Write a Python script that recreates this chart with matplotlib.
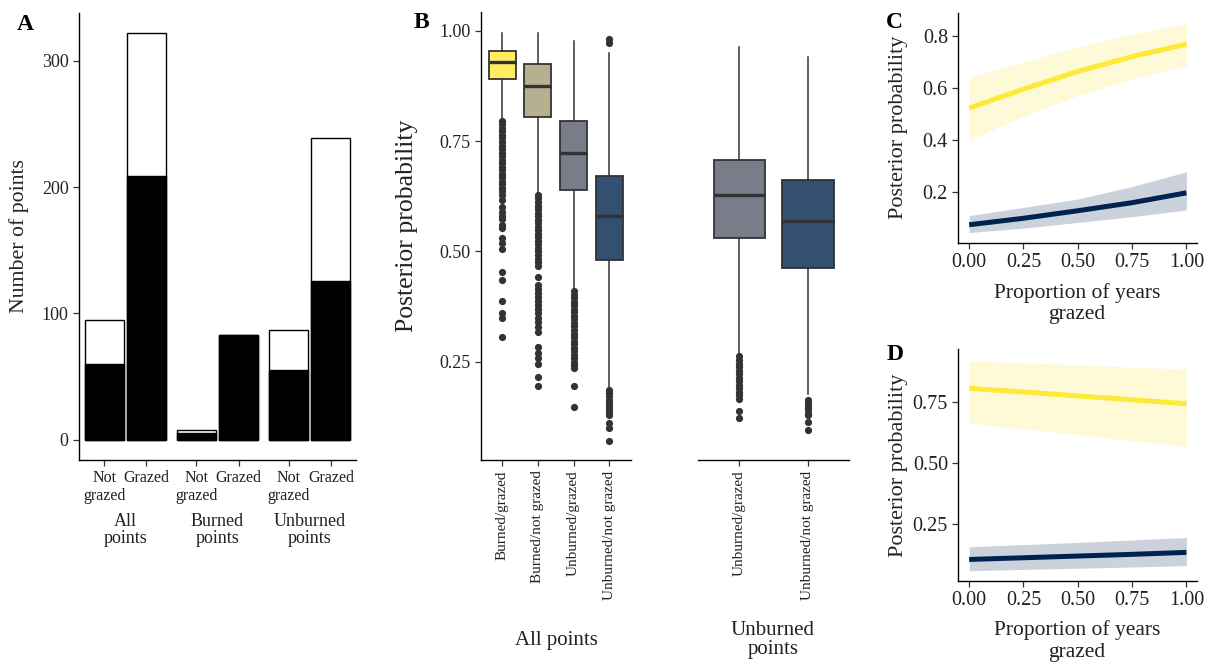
import matplotlib
matplotlib.use("Agg")
import matplotlib.pyplot as plt
import matplotlib.transforms as mtransforms
import numpy as np

plt.rcParams['font.family'] = ['Liberation Serif', 'DejaVu Serif']

# ---------------- Data ----------------
# Panel A
group_labels = ["All\npoints", "Burned\npoints", "Unburned\npoints"]
graze_labels = ["Not\ngrazed", "Grazed"]
bar_total = [95, 322, 8, 83, 87, 239]
bar_black = [60, 209, 5, 83, 55, 126]

# Panel B (left: all points)
box_labels_all = ["Burned/grazed", "Burned/not grazed", "Unburned/grazed", "Unburned/not grazed"]
all_q1 = [0.891, 0.805, 0.640, 0.480]
all_med = [0.929, 0.875, 0.724, 0.581]
all_q3 = [0.955, 0.924, 0.795, 0.672]
all_whislo = [0.800, 0.632, 0.414, 0.192]
all_whishi = [0.996, 0.994, 0.977, 0.950]
all_fliers = [
    [0.796, 0.788, 0.780, 0.772, 0.764, 0.756, 0.748, 0.740, 0.732, 0.724, 0.716,
     0.708, 0.700, 0.692, 0.684, 0.676, 0.668, 0.660, 0.652, 0.644, 0.636, 0.628,
     0.616, 0.600, 0.590, 0.580, 0.573, 0.561, 0.554, 0.530, 0.519, 0.505,
     0.454, 0.435, 0.388, 0.360, 0.350, 0.307],
    [0.628, 0.620, 0.612, 0.604, 0.596, 0.588, 0.580, 0.572, 0.564, 0.556, 0.548,
     0.540, 0.532, 0.524, 0.516, 0.508, 0.500, 0.492, 0.484, 0.476, 0.468, 0.443,
     0.424, 0.414, 0.405, 0.396, 0.388, 0.379, 0.370, 0.360, 0.350, 0.340, 0.329,
     0.318, 0.284, 0.269, 0.258, 0.246, 0.215, 0.196],
    [0.410, 0.402, 0.394, 0.386, 0.378, 0.370, 0.362, 0.354, 0.346, 0.338, 0.330,
     0.322, 0.314, 0.306, 0.298, 0.290, 0.282, 0.274, 0.266, 0.258, 0.250, 0.242,
     0.236, 0.196, 0.148],
    [0.981, 0.972, 0.187, 0.180, 0.172, 0.164, 0.157, 0.150, 0.143, 0.136, 0.129,
     0.112, 0.100, 0.071],
]

# Panel B (right: unburned points)
box_labels_unb = ["Unburned/grazed", "Unburned/not grazed"]
unb_q1 = [0.530, 0.463]
unb_med = [0.627, 0.568]
unb_q3 = [0.708, 0.661]
unb_whislo = [0.270, 0.176]
unb_whishi = [0.964, 0.941]
unb_fliers = [
    [0.262, 0.254, 0.246, 0.238, 0.230, 0.222, 0.214, 0.206, 0.198, 0.190, 0.182,
     0.174, 0.166, 0.139, 0.122],
    [0.163, 0.156, 0.149, 0.142, 0.135, 0.129, 0.114, 0.095],
]

# Panels C and D
prop_grazed = [0.0, 0.25, 0.5, 0.75, 1.0]
c_yel = [0.522, 0.595, 0.663, 0.720, 0.768]
c_yel_lo = [0.400, 0.490, 0.570, 0.635, 0.686]
c_yel_hi = [0.641, 0.700, 0.757, 0.807, 0.849]
c_nav = [0.073, 0.098, 0.127, 0.158, 0.196]
c_nav_lo = [0.043, 0.060, 0.082, 0.104, 0.130]
c_nav_hi = [0.108, 0.140, 0.172, 0.220, 0.277]

d_yel = [0.806, 0.791, 0.775, 0.759, 0.743]
d_yel_lo = [0.663, 0.640, 0.616, 0.592, 0.567]
d_yel_hi = [0.919, 0.911, 0.902, 0.893, 0.884]
d_nav = [0.105, 0.112, 0.119, 0.126, 0.134]
d_nav_lo = [0.059, 0.064, 0.069, 0.074, 0.080]
d_nav_hi = [0.157, 0.166, 0.175, 0.185, 0.195]

# ---------------- Style ----------------
W, H = 1213, 662
fig = plt.figure(figsize=(W / 100, H / 100), dpi=100)
cmap = plt.get_cmap('cividis')
YEL = cmap(1.0)
NAV = cmap(0.0)
box_cols = [cmap(1.0), cmap(0.667), cmap(0.333), cmap(0.0)]
unb_cols = [cmap(0.333), cmap(0.0)]
TXT = '#222222'
DARK = '#333333'


def px_axes(l, t, r, b):
    return fig.add_axes([l / W, 1 - b / H, (r - l) / W, (b - t) / H])


def style(ax, left=True):
    for s in ['top', 'right']:
        ax.spines[s].set_visible(False)
    for s in ['left', 'bottom']:
        ax.spines[s].set_linewidth(1.0)
        ax.spines[s].set_color('black')
    ax.tick_params(length=4, width=0.9, color=DARK, labelcolor=TXT)
    if not left:
        ax.spines['left'].set_visible(False)
        ax.tick_params(axis='y', left=False, labelleft=False)


# ---------------- Panel A ----------------
axA = px_axes(79, 12.7, 356, 460)
style(axA)
offsets = [-0.228, 0.228]
pos = []
for g in range(len(group_labels)):
    for k in range(2):
        pos.append(g + 1 + offsets[k])
axA.bar(pos, bar_total, width=0.42, color='white', edgecolor='black', linewidth=1.0)
axA.bar(pos, bar_black, width=0.42, color='black', edgecolor='black', linewidth=1.0)
axA.set_xlim(0.5, 3.5)
axA.set_ylim(-16.1, 338.1)
axA.set_yticks([0, 100, 200, 300])
axA.tick_params(axis='y', labelsize=13)
axA.set_xticks(pos)
axA.set_xticklabels(graze_labels * 3, fontsize=11.5, linespacing=1.15)
axA.tick_params(axis='x', pad=3.5)
trA = mtransforms.blended_transform_factory(axA.transData, fig.transFigure)
for g, lab in enumerate(group_labels):
    axA.text(g + 1, 1 - 530 / H, lab, transform=trA, ha='center', va='center',
             fontsize=13, color=TXT, linespacing=1.0)
fig.text(19.5 / W, 1 - 236 / H, "Number of points", rotation=90, ha='center', va='center',
         fontsize=15.7, color=TXT)
fig.text(25 / W, 1 - 24 / H, "A", ha='center', va='center', fontsize=17, fontweight='bold')


# ---------------- Panel B ----------------
def make_stats(q1, med, q3, lo, hi, fl, labels):
    st = []
    for i in range(len(q1)):
        st.append(dict(q1=q1[i], med=med[i], q3=q3[i], whislo=lo[i], whishi=hi[i],
                       fliers=fl[i], label=labels[i]))
    return st


def draw_box(ax, stats, cols):
    bp = ax.bxp(stats, positions=list(range(1, len(stats) + 1)), widths=0.75,
                patch_artist=True, showcaps=False,
                boxprops=dict(edgecolor=DARK, linewidth=1.3),
                medianprops=dict(color=DARK, linewidth=2.4),
                whiskerprops=dict(color=DARK, linewidth=1.1),
                flierprops=dict(marker='o', markerfacecolor=DARK, markeredgecolor='none',
                                markersize=5.2))
    for patch, c in zip(bp['boxes'], cols):
        r, g, b, _ = c
        patch.set_facecolor((0.8 * r + 0.2, 0.8 * g + 0.2, 0.8 * b + 0.2))
    return bp


axB1 = px_axes(480.7, 11.8, 630.7, 460.2)
style(axB1)
draw_box(axB1, make_stats(all_q1, all_med, all_q3, all_whislo, all_whishi, all_fliers,
                          box_labels_all), box_cols)
axB1.set_xlim(0.4, 4.6)
axB1.set_ylim(0.027, 1.043)
axB1.set_yticks([0.25, 0.5, 0.75, 1.0])
axB1.set_yticklabels(["0.25", "0.50", "0.75", "1.00"])
axB1.tick_params(axis='y', labelsize=13)
axB1.set_xticks([1, 2, 3, 4])
axB1.set_xticklabels(box_labels_all, rotation=90, fontsize=11)

axB2 = px_axes(698.3, 11.8, 849, 460.2)
style(axB2, left=False)
draw_box(axB2, make_stats(unb_q1, unb_med, unb_q3, unb_whislo, unb_whishi, unb_fliers,
                          box_labels_unb), unb_cols)
axB2.set_xlim(0.4, 2.6)
axB2.set_ylim(0.027, 1.043)
axB2.set_xticks([1, 2])
axB2.set_xticklabels(box_labels_unb, rotation=90, fontsize=11)

fig.text(407 / W, 1 - 226 / H, "Posterior probability", rotation=90, ha='center',
         va='center', fontsize=18.5, color=TXT)
fig.text(556 / W, 1 - 640 / H, "All points", ha='center', va='center', fontsize=15, color=TXT)
fig.text(773 / W, 1 - 640 / H, "Unburned\npoints", ha='center', va='center', fontsize=15,
         color=TXT, linespacing=1.05)
fig.text(421 / W, 1 - 23 / H, "B", ha='center', va='center', fontsize=17, fontweight='bold')


# ---------------- Panels C & D ----------------
def line_panel(ax, x, yy, yl, yh, ny, nl, nh):
    style(ax)
    ax.fill_between(x, yl, yh, color=YEL, alpha=0.2, linewidth=0)
    ax.fill_between(x, nl, nh, color=NAV, alpha=0.2, linewidth=0)
    ax.plot(x, yy, color=YEL, linewidth=3.6, solid_capstyle='butt')
    ax.plot(x, ny, color=NAV, linewidth=3.6, solid_capstyle='butt')
    ax.set_xlim(-0.05, 1.05)
    ax.set_xticks([0, 0.25, 0.5, 0.75, 1.0])
    ax.set_xticklabels(["0.00", "0.25", "0.50", "0.75", "1.00"])
    ax.tick_params(labelsize=14.5)


axC = px_axes(958.3, 12.7, 1197.3, 242.7)
line_panel(axC, prop_grazed, c_yel, c_yel_lo, c_yel_hi, c_nav, c_nav_lo, c_nav_hi)
axC.set_ylim(0.004, 0.889)
axC.set_yticks([0.2, 0.4, 0.6, 0.8])
axC.set_yticklabels(["0.2", "0.4", "0.6", "0.8"])
fig.text(898 / W, 1 - 127.7 / H, "Posterior probability", rotation=90, ha='center',
         va='center', fontsize=16, color=TXT)
fig.text(1077 / W, 1 - 303.5 / H, "Proportion of years\ngrazed", ha='center', va='center',
         fontsize=15.5, color=TXT, linespacing=1.15)
fig.text(894 / W, 1 - 22 / H, "C", ha='center', va='center', fontsize=17, fontweight='bold')

axD = px_axes(958.3, 349.3, 1197.3, 580.7)
line_panel(axD, prop_grazed, d_yel, d_yel_lo, d_yel_hi, d_nav, d_nav_lo, d_nav_hi)
axD.set_ylim(0.018, 0.966)
axD.set_yticks([0.25, 0.5, 0.75])
axD.set_yticklabels(["0.25", "0.50", "0.75"])
fig.text(898 / W, 1 - 465 / H, "Posterior probability", rotation=90, ha='center',
         va='center', fontsize=16, color=TXT)
fig.text(1077 / W, 1 - 641 / H, "Proportion of years\ngrazed", ha='center', va='center',
         fontsize=15.5, color=TXT, linespacing=1.15)
fig.text(895 / W, 1 - 355 / H, "D", ha='center', va='center', fontsize=17, fontweight='bold')

fig.savefig("out.png", dpi=100, facecolor='white')
